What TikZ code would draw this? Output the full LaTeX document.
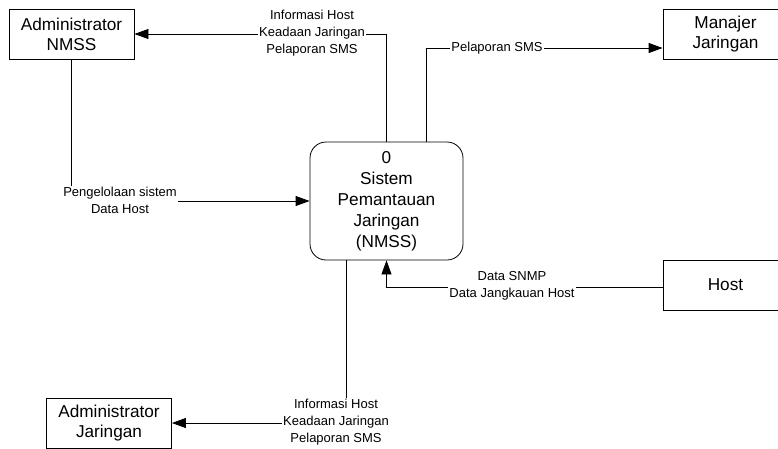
\documentclass[tikz,border=0pt]{standalone}
\usepackage{fontspec}
\setmainfont{Liberation Sans}
\usetikzlibrary{arrows.meta,calc}
\begin{document}
\begin{tikzpicture}[x=1pt,y=-1pt,
  ent/.style={draw, line width=0.8pt, minimum width=125pt, minimum height=50pt,
    font=\fontsize{17.2}{20}\selectfont, align=center, inner sep=0pt},
  proc/.style={draw, line width=0.8pt, rounded corners=16pt, minimum width=153pt,
    minimum height=118pt, font=\fontsize{17.2}{21}\selectfont, align=center, inner sep=0pt},
  lbl/.style={font=\fontsize{13}{16.8}\selectfont, align=center, fill=white, inner sep=1pt},
  flow/.style={line width=0.8pt, -{Triangle[length=14pt,width=10pt]}}
]
\clip (0,0) rectangle (778,448);
\fill[white] (0,0) rectangle (778,448);

\node[ent] (adminN) at (71.5,34) {Administrator\\NMSS};
\node[ent] (manajer) at (725.5,34) {Manajer\\Jaringan};
\node[ent] (host) at (725.5,285) {Host};
\node[ent] (adminJ) at (109,423) {Administrator\\Jaringan};
\node[proc] (proc) at (386.5,201) {0\\Sistem\\Pemantauan\\Jaringan\\(NMSS)};

\draw[flow] (proc.north) |- (adminN.east);
\node[lbl] (l1) at (312,33) {Informasi Host\\Keadaan Jaringan\\Pelaporan SMS};

\coordinate (pr2) at ($(proc.north)+(39.5,0)$);
\coordinate (mj) at ($(manajer.west)+(0,14)$);
\draw[flow] (pr2) |- (mj);
\node[lbl] (l2) at (497,48) {Pelaporan SMS};

\draw[flow] (adminN.south) |- (proc.west);
\node[lbl] (l3) at (120,200) {Pengelolaan sistem\\Data Host};

\coordinate (hw) at ($(host.west)+(0,2)$);
\draw[flow] (hw) -| (proc.south);
\node[lbl] (l4) at (512,286) {Data SNMP\\Data Jangkauan Host};

\coordinate (ps) at ($(proc.south)+(-40.5,0)$);
\draw[flow] (ps) |- (adminJ.east);
\node[lbl] (l5) at (336,422) {Informasi Host\\Keadaan Jaringan\\Pelaporan SMS};
\end{tikzpicture}
\end{document}
